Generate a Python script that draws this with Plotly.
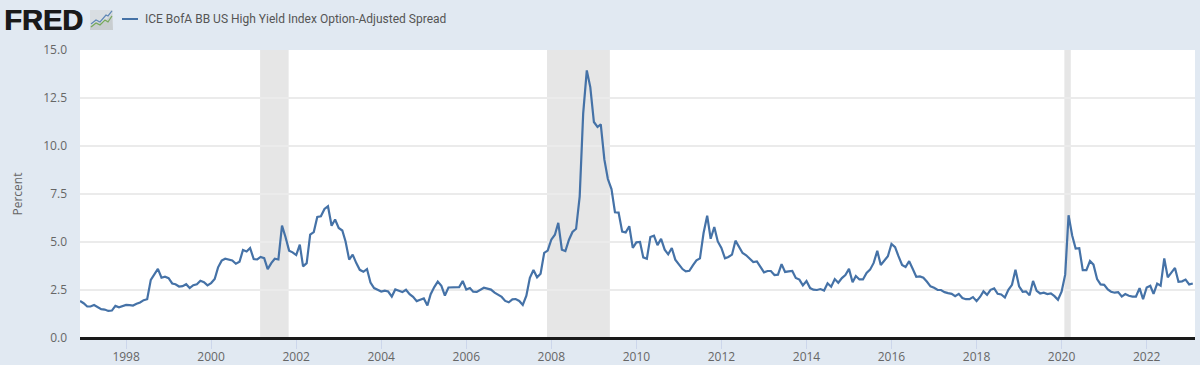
import pandas as pd
import plotly.graph_objects as go

y1996 = [1.93]
y1997 = [1.81,1.64,1.64,1.72,1.60,1.50,1.48,1.41,1.43,1.67,1.60,1.67]
y1998 = [1.72,1.71,1.69,1.78,1.85,1.97,2.02,3.03,3.35,3.60,3.14,3.19]
y1999 = [3.12,2.84,2.80,2.68,2.70,2.80,2.60,2.75,2.80,2.98,2.91,2.74]
y2000 = [2.86,3.07,3.68,4.03,4.13,4.08,4.04,3.87,3.97,4.58,4.51,4.69]
y2001 = [4.11,4.09,4.22,4.16,3.59,3.90,4.13,4.09,5.85,5.26,4.55,4.46]
y2002 = [4.32,4.86,3.73,3.90,5.38,5.52,6.30,6.34,6.72,6.86,5.85,6.17]
y2003 = [5.73,5.60,5.03,4.08,4.34,3.90,3.55,3.45,3.59,2.89,2.60,2.51]
y2004 = [2.42,2.47,2.42,2.16,2.53,2.46,2.39,2.51,2.28,2.14,1.92,1.99]
y2005 = [2.06,1.69,2.28,2.65,2.94,2.72,2.21,2.63,2.63,2.63,2.65,2.97]
y2006 = [2.52,2.60,2.41,2.40,2.52,2.62,2.57,2.52,2.36,2.26,2.14,1.93]
y2007 = [1.86,2.01,2.03,1.93,1.72,2.20,3.13,3.54,3.16,3.35,4.43,4.55]
y2008 = [5.12,5.38,6.00,4.60,4.53,5.12,5.52,5.69,7.38,11.70,13.94,13.07]
y2009 = [11.25,10.99,11.13,9.29,8.28,7.76,6.55,6.53,5.54,5.50,5.82,4.69]
y2010 = [4.98,5.00,4.20,4.13,5.26,5.33,4.84,5.16,4.60,4.36,4.69,4.08]
y2011 = [3.82,3.59,3.47,3.50,3.78,4.04,4.15,5.47,6.37,5.17,5.78,5.03]
y2012 = [4.69,4.15,4.22,4.34,5.07,4.74,4.43,4.31,4.15,3.96,3.99,3.73]
y2013 = [3.42,3.49,3.49,3.28,3.30,3.85,3.44,3.47,3.49,3.13,3.04,2.74]
y2014 = [2.97,2.60,2.52,2.50,2.55,2.47,2.85,2.67,3.07,2.88,3.12,3.28]
y2015 = [3.60,2.90,3.23,3.05,3.05,3.39,3.56,3.91,4.54,3.80,4.03,4.26]
y2016 = [4.90,4.73,4.26,3.80,3.70,4.00,3.61,3.19,3.21,3.14,2.93,2.69]
y2017 = [2.62,2.50,2.50,2.39,2.34,2.30,2.18,2.30,2.08,2.02,2.02,2.13]
y2018 = [1.92,2.15,2.43,2.25,2.51,2.58,2.30,2.27,2.11,2.51,2.77,3.56]
y2019 = [2.69,2.41,2.43,2.23,2.97,2.46,2.32,2.36,2.29,2.32,2.18,1.99]
y2020 = [2.41,3.30,6.39,5.34,4.66,4.68,3.53,3.53,4.01,3.82,3.07,2.79]
y2021 = [2.77,2.53,2.41,2.36,2.39,2.16,2.29,2.20,2.16,2.16,2.60,2.02]
y2022 = [2.63,2.72,2.30,2.83,2.72,4.14,3.16,3.42,3.65,2.93,2.95,3.04]
y2023 = [2.79,2.84]

spread = (y1996+y1997+y1998+y1999+y2000+y2001+y2002+y2003+y2004+y2005+y2006+y2007
          +y2008+y2009+y2010+y2011+y2012+y2013+y2014+y2015+y2016+y2017+y2018+y2019
          +y2020+y2021+y2022+y2023)
dates = pd.date_range("1996-12-01", periods=len(spread), freq="MS")

recession_start = ["2001-02-25", "2007-11-25", "2020-01-25"]
recession_end = ["2001-10-28", "2009-05-18", "2020-03-20"]
y_ticks = [0, 2.5, 5, 7.5, 10, 12.5, 15]
y_labels = ["0.0", "2.5", "5.0", "7.5", "10.0", "12.5", "15.0"]
x_ticks = [f"{y}-01-01" for y in range(1998, 2024, 2)]
x_labels = [str(y) for y in range(1998, 2024, 2)]
series_name = "ICE BofA BB US High Yield Index Option-Adjusted Spread"

W, H = 1200, 365
L, R, T, B = 80, 1195, 50, 338
FONT = "Open Sans"
TXT = "#666666"
LINE = "#4572a7"

fig = go.Figure()
fig.add_trace(go.Scatter(x=dates, y=spread, mode="lines", name=series_name,
                         line=dict(color=LINE, width=2.2), showlegend=False))

shapes = [dict(type="rect", xref="x", yref="paper", x0=a, x1=b, y0=0, y1=1,
               fillcolor="#e6e6e6", line_width=0, layer="below")
          for a, b in zip(recession_start, recession_end)]

def px(x): return (x - L) / (R - L)
def py(y): return (B - y) / (B - T)
def path(pts, close=False):
    s = "M" + " L".join(f"{px(a):.5f},{py(b):.5f}" for a, b in pts)
    return s + (" Z" if close else "")

# zero axis line
shapes.append(dict(type="line", xref="paper", yref="paper", x0=0, x1=1, y0=py(338.6), y1=py(338.6),
                   line=dict(color="#1a1a1a", width=3), layer="above"))
# legend key line
shapes.append(dict(type="line", xref="paper", yref="paper", x0=px(122), x1=px(138), y0=py(19), y1=py(19),
                   line=dict(color=LINE, width=2), layer="above"))
# FRED logo icon
shapes.append(dict(type="rect", xref="paper", yref="paper", x0=px(90), x1=px(113), y0=py(30), y1=py(10),
                   fillcolor="#d9dee2", line_width=0, layer="above"))
shapes.append(dict(type="path", xref="paper", yref="paper", path=path([(90,30),(90,26),(97,22),(103,23),(112,14),(113,30)], True),
                   fillcolor="#c8cdd0", line_width=0, layer="above"))
shapes.append(dict(type="path", xref="paper", yref="paper", path=path([(91,24),(96,20),(100,22),(106,15),(108,16),(112,11)]),
                   line=dict(color="#5f87b5", width=1.2), layer="above"))
shapes.append(dict(type="path", xref="paper", yref="paper", path=path([(91,27),(96,23),(100,25),(105,20),(108,22),(112,16)]),
                   line=dict(color="#76a85a", width=1.2), layer="above"))

fig.update_layout(
    width=W, height=H, autosize=False,
    margin=dict(l=L, r=W-R, t=T, b=H-B, pad=0, autoexpand=False),
    paper_bgcolor="#e1e9f2", plot_bgcolor="#ffffff",
    font=dict(family=FONT, size=12, color=TXT),
    shapes=shapes,
    showlegend=False,
    xaxis=dict(type="date", range=["1996-12-01", "2023-02-20"], tickvals=x_ticks, ticktext=x_labels,
               showgrid=False, zeroline=False, showline=False, ticks="outside", ticklen=10,
               tickcolor="#ccd6eb", tickwidth=1, ticklabelstandoff=-2,
               tickfont=dict(size=12, color=TXT), automargin=False),
    yaxis=dict(range=[0, 15], tickvals=y_ticks, ticktext=y_labels, showgrid=True,
               gridcolor="#ebebeb", gridwidth=1.5, zeroline=False, showline=False, ticks="",
               ticklabelstandoff=12,
               tickfont=dict(size=12, color=TXT), automargin=False,
               title=dict(text="Percent", font=dict(size=12, color=TXT), standoff=18)),
    annotations=[
        dict(text="<b>FRED</b>", xref="paper", yref="paper", x=px(3), y=py(20), xanchor="left",
             yanchor="middle", showarrow=False, borderpad=0,
             font=dict(family="Liberation Sans", size=29, color="#1a1a1a", shadow="0.8px 0 0 #1a1a1a")),
        dict(text=series_name, xref="paper", yref="paper", x=px(144), y=py(19), xanchor="left",
             yanchor="middle", showarrow=False, borderpad=0,
             font=dict(family="Roboto", size=12, color="#555555")),
    ],
)
fig.write_html("out.html", config=dict(displayModeBar=False),
               post_script="document.body.style.margin='0';document.body.style.background='#e1e9f2';")
